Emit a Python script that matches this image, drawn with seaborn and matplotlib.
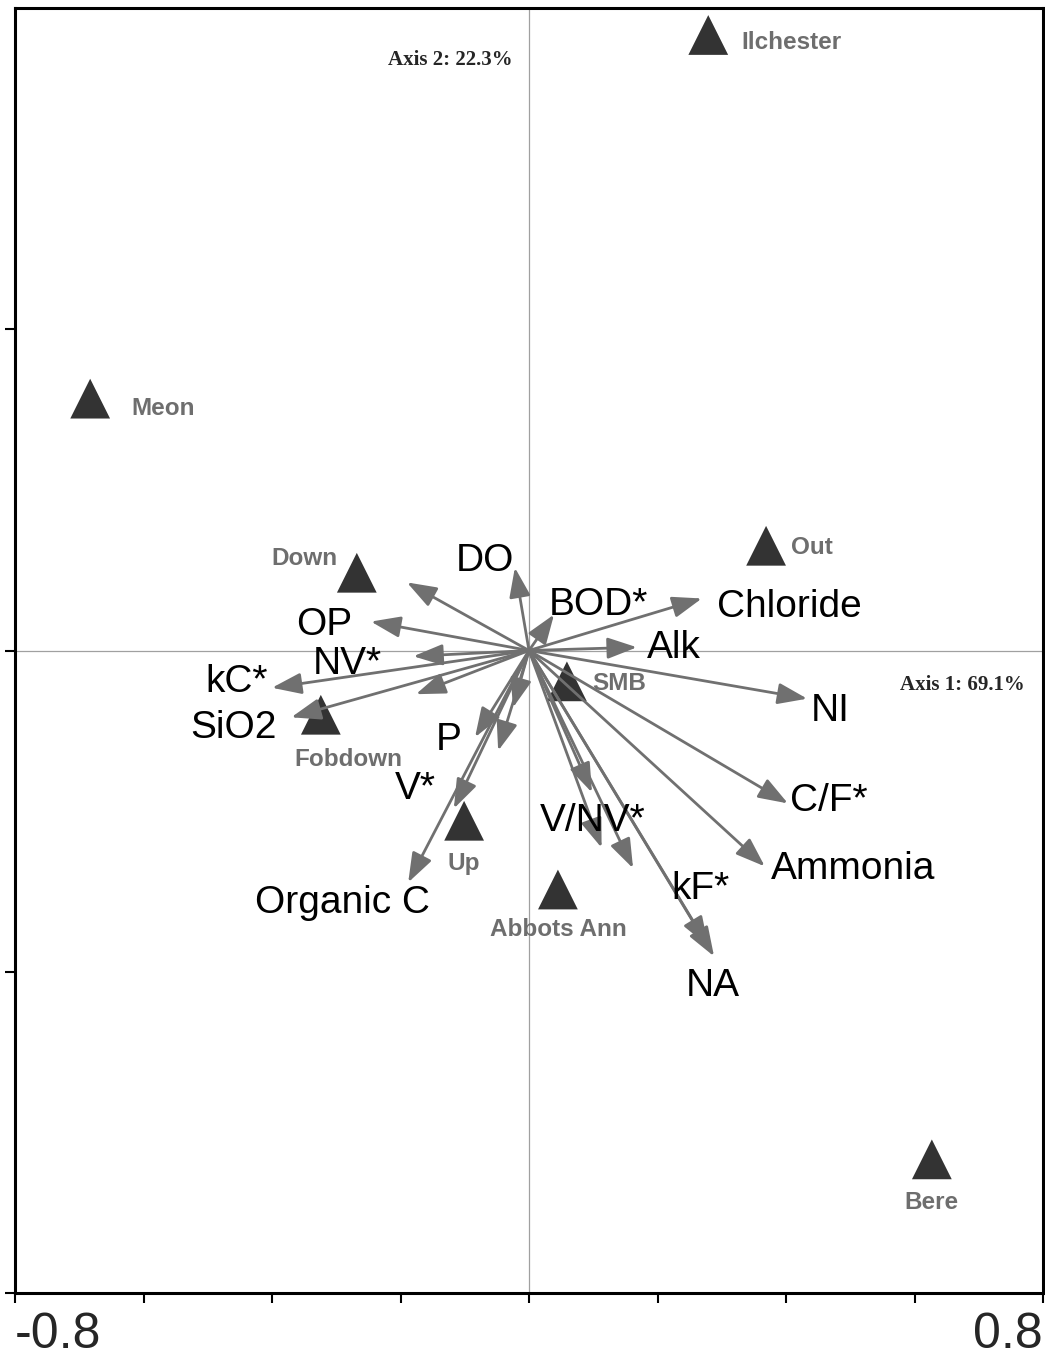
import matplotlib
matplotlib.use("Agg")
import matplotlib.pyplot as plt
import numpy as np
import pandas as pd
import seaborn as sns

# Site scores on the first two ordination axes
sites = ["Ilchester", "Meon", "Down", "Out", "SMB", "Fobdown", "Up", "Abbots Ann", "Bere"]
site_x = [0.279, -0.683, -0.268, 0.369, 0.059, -0.324, -0.101, 0.045, 0.627]
site_y = [0.958, 0.392, 0.121, 0.163, -0.048, -0.100, -0.265, -0.372, -0.792]

# Environmental variable vectors (unnamed ones are drawn without a label)
variables = ["DO", "BOD*", "Chloride", "Alk", "NI", "C/F*", "Ammonia", "NA", "kF*",
             "", "V/NV*", "", "", "", "P", "V*", "Organic C", "", "SiO2", "kC*",
             "NV*", "OP", ""]
var_x = [-0.022, 0.039, 0.269, 0.168, 0.433, 0.403, 0.367, 0.288, 0.279,
         0.162, 0.113, 0.098, -0.025, -0.048, -0.084, -0.117, -0.188, -0.176,
         -0.370, -0.400, -0.180, -0.246, -0.190]
var_y = [0.129, 0.056, 0.081, 0.005, -0.075, -0.238, -0.336, -0.476, -0.460,
         -0.339, -0.307, -0.221, -0.089, -0.156, -0.135, -0.246, -0.361, -0.068,
         -0.104, -0.058, -0.009, 0.045, 0.106]

axis1_label = "Axis 1: 69.1%"
axis2_label = "Axis 2: 22.3%"
x_tick_values = [-0.8, -0.6, -0.4, -0.2, 0.0, 0.2, 0.4, 0.6, 0.8]
x_tick_labels = ["-0.8", "", "", "", "", "", "", "", "0.8"]
y_tick_values = [-1.0, -0.5, 0.0, 0.5]

# Label placement (offsets in pixels from the arrow tip / site marker)
var_label_offset = [(-30, 10), (44, 13), (88, -6), (37, 2), (23, -9), (41, 5),
                    (88, 0), (-1, -27), (-8, 60), (0, 0), (-9, 30), (0, 0),
                    (0, 0), (0, 0), (-26, 0), (-38, 23), (-66, -18), (0, 0),
                    (-58, -8), (-35, 9), (-66, -5), (-47, 0), (0, 0)]
site_label_offset = [(33, -6, "left"), (41, -8, "left"), (-52, 16, "center"),
                     (25, 0, "left"), (25, 0, "left"), (28, -43, "center"),
                     (0, -41, "center"), (0, -38, "center"), (0, -41, "center")]

sns.set_style("white")
plt.rcParams["font.family"] = ["Liberation Sans", "DejaVu Sans"]

site_df = pd.DataFrame({"site": sites, "x": site_x, "y": site_y})

fig = plt.figure(figsize=(10.45, 13.6), dpi=100)
ax = fig.add_axes([15 / 1045, 67 / 1360, 1028 / 1045, 1285 / 1360])

ax.axhline(0, color="#a0a0a0", lw=0.9, zorder=1)
ax.axvline(0, color="#a0a0a0", lw=0.9, zorder=1)

sns.scatterplot(data=site_df, x="x", y="y", marker="^", s=820, color="#333333",
                edgecolor="none", linewidth=0, ax=ax, zorder=2, legend=False)

arrow_color = "#707070"
for name, vx, vy, (dx, dy) in zip(variables, var_x, var_y, var_label_offset):
    ax.annotate("", xy=(vx, vy), xytext=(0, 0),
                arrowprops=dict(arrowstyle="-|>,head_length=1.0,head_width=0.36",
                                mutation_scale=18, color=arrow_color, lw=2.0,
                                shrinkA=0, shrinkB=0),
                zorder=3)
    if name:
        ax.annotate(name, xy=(vx, vy), xytext=(dx, dy - 3),
                    textcoords="offset pixels", ha="center", va="center",
                    fontsize=28, color="black", zorder=4)

for name, sx, sy, (dx, dy, ha) in zip(sites, site_x, site_y, site_label_offset):
    ax.annotate(name, xy=(sx, sy), xytext=(dx, dy - 2),
                textcoords="offset pixels", ha=ha, va="center",
                fontsize=17.5, fontweight="bold", color="#6e6e6e", zorder=4)

serif = ["Liberation Serif", "DejaVu Serif"]
ax.annotate(axis2_label, xy=(0, 1), xycoords="data", xytext=(-79, -52),
            textcoords="offset pixels", ha="center", va="center",
            fontsize=15, fontweight="bold", family=serif)
ax.annotate(axis1_label, xy=(0.8, 0), xycoords="data", xytext=(-81, -34),
            textcoords="offset pixels", ha="center", va="center",
            fontsize=15, fontweight="bold", family=serif)

ax.set_xlim(-0.8, 0.8)
ax.set_ylim(-1.0, 1.0)
ax.set_xticks(x_tick_values)
ax.set_xticklabels(x_tick_labels, fontsize=36)
tl = ax.get_xticklabels()
tl[0].set_ha("left")
tl[-1].set_ha("right")
ax.set_yticks(y_tick_values)
ax.set_yticklabels([])
ax.set_xlabel("")
ax.set_ylabel("")
ax.tick_params(axis="both", direction="out", length=7, width=1.5, color="black",
               bottom=True, left=True)
ax.tick_params(axis="x", pad=7)

for side in ["left", "bottom", "top", "right"]:
    ax.spines[side].set_visible(True)
    ax.spines[side].set_color("black")
    ax.spines[side].set_linewidth(2.2)

fig.savefig("out.png", dpi=100, facecolor="white")
